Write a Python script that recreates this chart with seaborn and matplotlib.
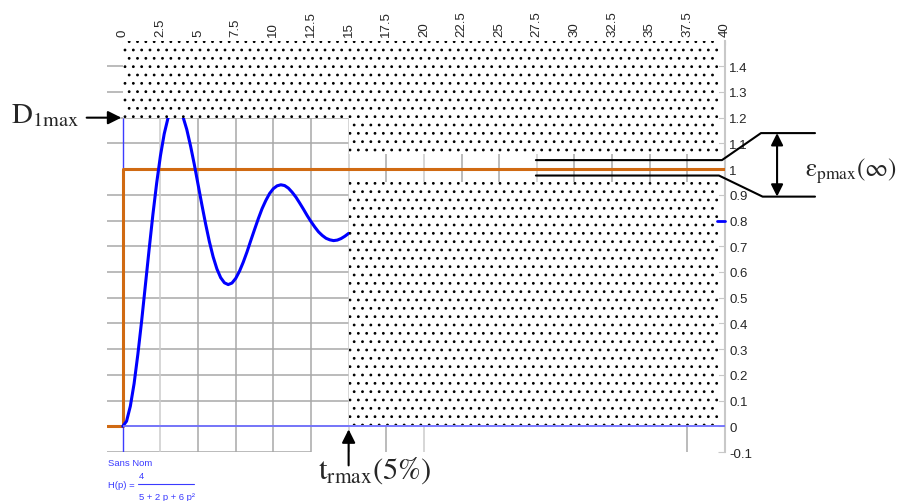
# -*- coding: utf-8 -*-
"""
Step response of H(p) = 4 / (5 + 2p + 6p^2) with tolerance zones
"""

import matplotlib
matplotlib.use('Agg')
import matplotlib.pyplot as plt
import numpy as np
import seaborn as sns

# Values
response = [0.000, 0.020, 0.078, 0.166, 0.280, 0.409, 0.549, 0.689, 0.824,
            0.946, 1.052, 1.137, 1.198, 1.234, 1.246, 1.235, 1.203, 1.154,
            1.090, 1.018, 0.940, 0.862, 0.787, 0.718, 0.659, 0.612, 0.578,
            0.558, 0.551, 0.557, 0.575, 0.603, 0.638, 0.678, 0.722, 0.765,
            0.807, 0.846, 0.878, 0.905, 0.924, 0.935, 0.939, 0.936, 0.926,
            0.910, 0.891, 0.868, 0.844, 0.819, 0.796, 0.775, 0.756, 0.742,
            0.731, 0.725, 0.722, 0.724, 0.730, 0.739, 0.750]
response_t = np.linspace(0, 15, len(response))

step_t = [-1.05, 0, 0, 40]
step_y = [0, 0, 1, 1]

x_ticks = [0, 2.5, 5, 7.5, 10, 12.5, 15, 17.5, 20, 22.5, 25, 27.5, 30, 32.5,
           35, 37.5, 40]
x_labels = ['0', '2.5', '5', '7.5', '10', '12.5', '15', '17.5', '20', '22.5',
            '25', '27.5', '30', '32.5', '35', '37.5', '40']
y_ticks = [-0.1, 0, 0.1, 0.2, 0.3, 0.4, 0.5, 0.6, 0.7, 0.8, 0.9, 1.0, 1.1,
           1.2, 1.3, 1.4]
y_labels = ['-0.1', '0', '0.1', '0.2', '0.3', '0.4', '0.5', '0.6', '0.7',
            '0.8', '0.9', '1', '1.1', '1.2', '1.3', '1.4']

t_settle = 15
tol_low, tol_high = 0.95, 1.06
overshoot_cap = 1.2


def main():
    sns.set_style('white')
    plt.rcParams['font.family'] = ['Liberation Sans', 'DejaVu Sans']
    plt.rcParams['mathtext.fontset'] = 'stix'
    plt.rcParams['hatch.linewidth'] = 0.8

    fig = plt.figure(figsize=(9.06, 5.02), dpi=100)
    ax = fig.add_axes([0.1181, 0.0976, 0.6821, 0.8197])
    ax.set_xlim(-1.05, 40)
    ax.set_ylim(-0.1, 1.5)

    # grid
    grid_c = '#a8a8a8'
    for y in y_ticks:
        if y == 1.0:
            continue
        x_end = 12.5 if y == -0.1 else 15
        ax.hlines(y, -1.05, x_end, color=grid_c, lw=1.1, zorder=1)
    for x in x_ticks[1:-1]:
        c = '#cccccc' if x in (2.5, 15, 20, 27.5) else grid_c
        y_start = 0 if 20 < x < 37.5 else -0.1
        ax.vlines(x, y_start, 1.5, color=c, lw=1.1, zorder=1)

    # blue axes of the plot
    ax.vlines(0, -0.1, overshoot_cap, color='#3c3cff', lw=1, zorder=2)
    ax.hlines(0, 0, 40, color='#7070ff', lw=1.3, zorder=5)

    # curves
    sns.lineplot(x=step_t, y=step_y, estimator=None, sort=False, ax=ax,
                 color='#d06a12', lw=2.2, zorder=3)
    sns.lineplot(x=response_t, y=response, estimator=None, sort=False, ax=ax,
                 color='#0000ff', lw=2.2, zorder=3)

    # forbidden zones
    hatch_kw = dict(facecolor='white', edgecolor='black', hatch='..',
                    linewidth=0, zorder=4)
    ax.fill_between([0, 39.6], overshoot_cap, 1.5, **hatch_kw)
    ax.fill_between([t_settle, 39.6], tol_high, overshoot_cap, **hatch_kw)
    ax.fill_between([t_settle, 39.6], 0.005, tol_low, **hatch_kw)

    # axis styling
    for s in ['top', 'left', 'bottom']:
        ax.spines[s].set_visible(False)
    ax.spines['right'].set_color('#c8c8c8')
    ax.spines['right'].set_linewidth(1.5)
    ax.xaxis.tick_top()
    ax.set_xticks(x_ticks)
    ax.set_xticklabels(x_labels, rotation=90, fontsize=9.5)
    ax.tick_params(axis='x', direction='in', length=3, color='#c8c8c8',
                   pad=3)
    ax.yaxis.tick_right()
    ax.set_yticks(y_ticks)
    ax.set_yticklabels(y_labels, fontsize=9.5)
    ax.tick_params(axis='y', direction='in', length=5, color='#c8c8c8',
                   pad=3)
    ax.plot([39.5, 40], [0.8, 0.8], color='#0000ff', lw=2, clip_on=False,
            zorder=6)

    # tolerance bracket
    ax.plot([27.44, 39.8, 42.39, 45.98], [1.035, 1.035, 1.14, 1.14],
            color='black', lw=1.5, clip_on=False, zorder=6)
    ax.plot([27.44, 39.6, 42.5, 45.98], [0.975, 0.975, 0.893, 0.893],
            color='black', lw=1.5, clip_on=False, zorder=6)
    ax.annotate('', xy=(43.46, 1.14), xytext=(43.46, 0.893),
                arrowprops=dict(arrowstyle='<|-|>', color='black', lw=1.5,
                                mutation_scale=18, shrinkA=0, shrinkB=0),
                annotation_clip=False)
    ax.text(45.3, 0.977, r'$\mathrm{\varepsilon_{pmax}(\infty)}$',
            fontsize=18, ha='left', va='baseline', clip_on=False)

    # D1max
    ax.annotate('', xy=(-0.1, 1.2), xytext=(-2.4, 1.2),
                arrowprops=dict(arrowstyle='-|>', color='black', lw=1.5,
                                mutation_scale=20, shrinkA=0, shrinkB=0),
                annotation_clip=False)
    ax.text(-7.4, 1.183, r'$\mathrm{D_{1max}}$', fontsize=21, ha='left',
            va='baseline', clip_on=False)

    # trmax
    ax.annotate('', xy=(t_settle, -0.012), xytext=(t_settle, -0.152),
                arrowprops=dict(arrowstyle='-|>', color='black', lw=1.5,
                                mutation_scale=20, shrinkA=0, shrinkB=0),
                annotation_clip=False)
    ax.text(12.96, -0.198, r'$\mathrm{t_{rmax}(5\%)}$', fontsize=22,
            ha='left', va='baseline', clip_on=False)

    # transfer function caption
    blue = '#3a3aff'
    ax.text(-1.0, -0.14, 'Sans Nom', color=blue, fontsize=6.8,
            va='center', clip_on=False)
    ax.text(-1.0, -0.228, 'H(p) =', color=blue, fontsize=6.8,
            va='center', clip_on=False)
    ax.text(1.26, -0.19, '4', color=blue, fontsize=6.8, ha='center',
            va='center', clip_on=False)
    ax.plot([1.0, 4.72], [-0.226, -0.226], color=blue, lw=0.8,
            clip_on=False)
    ax.text(1.05, -0.272, '5 + 2 p + 6 p²', color=blue, fontsize=6.8,
            va='center', clip_on=False)

    fig.savefig('out.png', dpi=100)


if __name__ == "__main__":
    main()
